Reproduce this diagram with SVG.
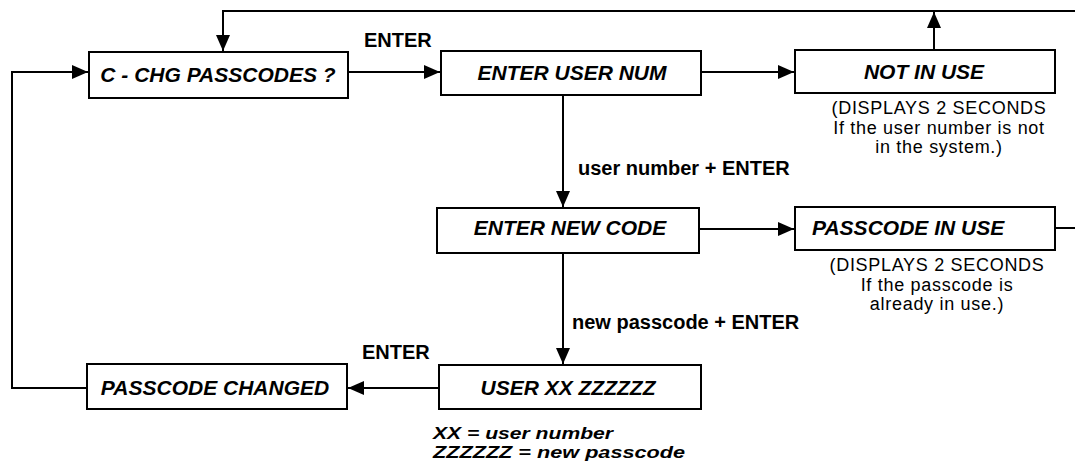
<svg xmlns="http://www.w3.org/2000/svg" width="1075" height="461" viewBox="0 0 1075 461">
<style>
.box{fill:#fff;stroke:#000;stroke-width:2}
.lbl{font-family:"Liberation Sans",Arial,sans-serif;font-weight:bold;font-style:italic;font-size:21px;fill:#000}
.cond{font-family:"Liberation Sans",Arial,sans-serif;font-weight:bold;font-size:20px;fill:#000}
.note{font-family:"Liberation Sans",Arial,sans-serif;font-size:18px;letter-spacing:0.7px;fill:#000;text-anchor:middle}
.key{font-family:"Liberation Sans",Arial,sans-serif;font-weight:bold;font-style:italic;font-size:17px;fill:#000}
.ln{fill:none;stroke:#000;stroke-width:2}
</style>
<defs>
<marker id="ah" markerUnits="userSpaceOnUse" markerWidth="18" markerHeight="14" refX="16" refY="7" orient="auto">
<path d="M0,0 L16,7 L0,14 Z" fill="#000"/>
</marker>
</defs>
<rect width="1075" height="461" fill="#fff"/>
<g id="connectors">
<path class="ln" d="M1075,11 H223 V51" marker-end="url(#ah)"/>
<path class="ln" d="M934,50 V12" marker-end="url(#ah)"/>
<path class="ln" d="M87,388 H12 V72 H88" marker-end="url(#ah)"/>
<path class="ln" d="M348,72 H440" marker-end="url(#ah)"/>
<path class="ln" d="M701,72 H794" marker-end="url(#ah)"/>
<path class="ln" d="M563,95 V207" marker-end="url(#ah)"/>
<path class="ln" d="M699,229 H794" marker-end="url(#ah)"/>
<path class="ln" d="M563,253 V364" marker-end="url(#ah)"/>
<path class="ln" d="M439,388 H348" marker-end="url(#ah)"/>
<path class="ln" d="M1055,228 H1075"/>
<text class="cond" x="364" y="47">ENTER</text>
<text class="cond" x="578" y="175">user number + ENTER</text>
<text class="cond" x="572" y="329">new passcode + ENTER</text>
<text class="cond" x="362" y="359">ENTER</text>
</g>
<g id="c_chg">
<rect class="box" x="89" y="52" width="259" height="46"/>
<text class="lbl" x="218" y="82" text-anchor="middle">C - CHG PASSCODES ?</text>
</g>
<g id="enter_user">
<rect class="box" x="441" y="51" width="260" height="44"/>
<text class="lbl" x="572" y="80" text-anchor="middle">ENTER USER NUM</text>
</g>
<g id="not_in_use">
<rect class="box" x="795" y="50" width="260" height="43"/>
<text class="lbl" x="924" y="79" text-anchor="middle">NOT IN USE</text>
<text class="note" x="939" y="114">(DISPLAYS 2 SECONDS</text>
<text class="note" x="939" y="134">If the user number is not</text>
<text class="note" x="939" y="153">in the system.)</text>
</g>
<g id="enter_new">
<rect class="box" x="437" y="208" width="262" height="45"/>
<text class="lbl" x="570" y="235" text-anchor="middle">ENTER NEW CODE</text>
</g>
<g id="pass_in_use">
<rect class="box" x="795" y="207" width="260" height="43"/>
<text class="lbl" x="812" y="235">PASSCODE IN USE</text>
<text class="note" x="937" y="271">(DISPLAYS 2 SECONDS</text>
<text class="note" x="937" y="291">If the passcode is</text>
<text class="note" x="937" y="310">already in use.)</text>
</g>
<g id="user_xx">
<rect class="box" x="439" y="365" width="262" height="44"/>
<text class="lbl" x="568" y="395" text-anchor="middle">USER XX ZZZZZZ</text>
<text class="key" x="433" y="439" textLength="180" lengthAdjust="spacingAndGlyphs">XX = user number</text>
<text class="key" x="433" y="458" textLength="252" lengthAdjust="spacingAndGlyphs">ZZZZZZ = new passcode</text>
</g>
<g id="pass_changed">
<rect class="box" x="87" y="364" width="260" height="45"/>
<text class="lbl" x="215" y="395" text-anchor="middle">PASSCODE CHANGED</text>
</g>
</svg>
